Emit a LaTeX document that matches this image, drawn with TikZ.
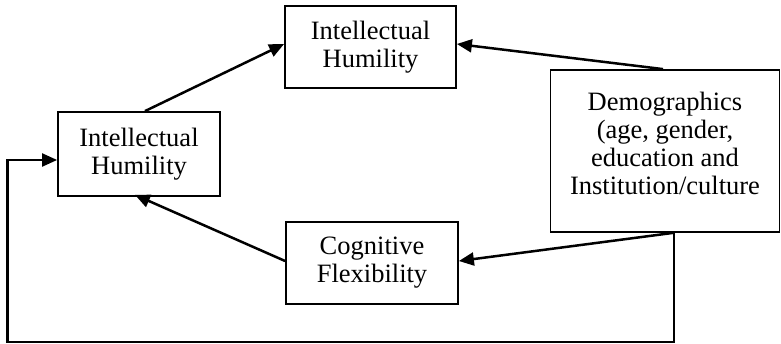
\documentclass[tikz,border=0pt]{standalone}
\usepackage{fontspec}
\setmainfont{Liberation Serif}
\usetikzlibrary{arrows.meta}
\begin{document}
\begin{tikzpicture}[x=1pt,y=-1pt,
  box/.style={draw,line width=1.8pt,rectangle,inner sep=0pt,align=center,
    font=\fontsize{26.5}{28}\selectfont},
  conn/.style={line width=2.5pt,-{Triangle[length=15pt,width=13pt]}},
  fb/.style={line width=2.2pt}]
\useasboundingbox (0,0) rectangle (781,344);
\node[box,minimum width=162pt,minimum height=84pt] (L) at (139,154) {Intellectual\\Humility};
\node[box,minimum width=171pt,minimum height=82pt] (T) at (370.5,47) {Intellectual\\Humility};
\node[box,minimum width=172pt,minimum height=82pt] (C) at (372,263) {Cognitive\\Flexibility};
\node[draw,line width=1.8pt,rectangle,minimum width=229pt,minimum height=162pt] (D) at (665,151) {};
\node[align=center,inner sep=0pt,font=\fontsize{26.5}{28}\selectfont] (Dt) at (665,143) {Demographics\\(age, gender,\\education and\\Institution/culture};
\coordinate (fbA) at (674,342);
\coordinate (fbB) at (7.5,342);
\coordinate (fbC) at (7.5,160);
\draw[conn] ([xshift=6pt]L.north) -- ([yshift=3pt]T.west);
\draw[conn] ([xshift=-2pt]D.north) -- ([yshift=3pt]T.east);
\draw[conn] ([yshift=2pt]C.west) -- ([xshift=-4pt,yshift=2pt]L.south);
\draw[conn] ([xshift=8pt]D.south) -- ([yshift=2pt]C.east);
\draw[fb,-{Triangle[length=15pt,width=13pt]}] ([xshift=9pt]D.south) |- (fbA) -- (fbB) -- (fbC) -- (L.west |- fbC);
\end{tikzpicture}
\end{document}
